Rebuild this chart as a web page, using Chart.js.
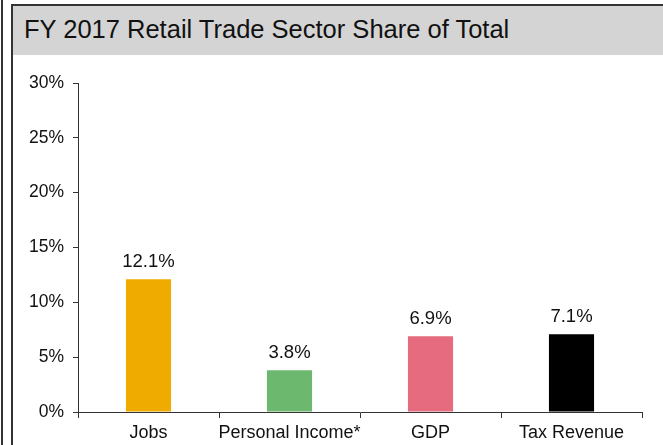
<!DOCTYPE html>
<html>
<head>
<meta charset="utf-8">
<script src="https://cdn.jsdelivr.net/npm/chart.js@4"></script>
<style>
  html, body { margin: 0; padding: 0; background: #fff; }
  body { width: 663px; height: 445px; position: relative; overflow: hidden; font-family: "Liberation Sans", Arial, sans-serif; }
  #outer { position: absolute; left: 1px; top: 0; width: 2px; height: 445px; background: #333; }
  #box { position: absolute; left: 11px; top: 4px; width: 652px; height: 441px; border-top: 2px solid #333; border-left: 2px solid #333; box-sizing: border-box; }
  #title { position: absolute; left: 13px; top: 6px; width: 650px; height: 49px; background: #d4d4d4; }
  #title span { position: absolute; left: 11px; top: 9px; font-size: 25.5px; color: #111; white-space: nowrap; }
  #c { position: absolute; left: 13px; top: 55px; }
</style>
</head>
<body>
<div id="outer"></div>
<div id="box"></div>
<div id="title"><span>FY 2017 Retail Trade Sector Share of Total</span></div>
<canvas id="c" width="650" height="390"></canvas>
<script>
const categories = ["Jobs", "Personal Income*", "GDP", "Tax Revenue"];
const values = [12.1, 3.8, 6.9, 7.1];
const barColors = ["#F0AB00", "#6CB86E", "#E66B7E", "#000000"];
const yTicks = [0, 5, 10, 15, 20, 25, 30];

const FONT = '"Liberation Sans", Arial, sans-serif';

const valueLabels = {
  id: 'valueLabels',
  afterDatasetsDraw(chart) {
    const ctx = chart.ctx;
    const meta = chart.getDatasetMeta(0);
    ctx.save();
    ctx.font = '18.5px ' + FONT;
    ctx.fillStyle = '#111';
    ctx.textAlign = 'center';
    ctx.textBaseline = 'alphabetic';
    meta.data.forEach((bar, i) => {
      ctx.fillText(values[i].toFixed(1) + '%', bar.x, bar.y - 12);
    });
    ctx.restore();
  }
};

new Chart(document.getElementById('c'), {
  type: 'bar',
  data: {
    labels: categories,
    datasets: [{
      data: values,
      backgroundColor: barColors,
      borderWidth: 0,
      barPercentage: 0.32,
      categoryPercentage: 1
    }]
  },
  options: {
    responsive: false,
    animation: false,
    devicePixelRatio: 1,
    layout: { padding: { top: 28, right: 21, left: 0, bottom: 0 } },
    plugins: { legend: { display: false }, tooltip: { enabled: false } },
    scales: {
      x: {
        grid: { drawOnChartArea: false, drawTicks: true, tickLength: 6, color: '#333', offset: true },
        border: { color: '#333', width: 1 },
        ticks: { color: '#111', font: { size: 18, family: FONT }, padding: 4, maxRotation: 0, autoSkip: false },
        afterFit(scale) { scale.height = 33; }
      },
      y: {
        min: 0, max: 30,
        afterBuildTicks(scale) { scale.ticks = yTicks.map(v => ({ value: v })); },
        grid: { drawOnChartArea: false, drawTicks: true, tickLength: 5, color: '#333' },
        border: { color: '#333', width: 1 },
        ticks: { color: '#111', font: { size: 17.5, family: FONT }, padding: 9, callback: v => v + '%' },
        afterFit(scale) { scale.width = 65; }
      }
    }
  },
  plugins: [valueLabels]
});
</script>
</body>
</html>
